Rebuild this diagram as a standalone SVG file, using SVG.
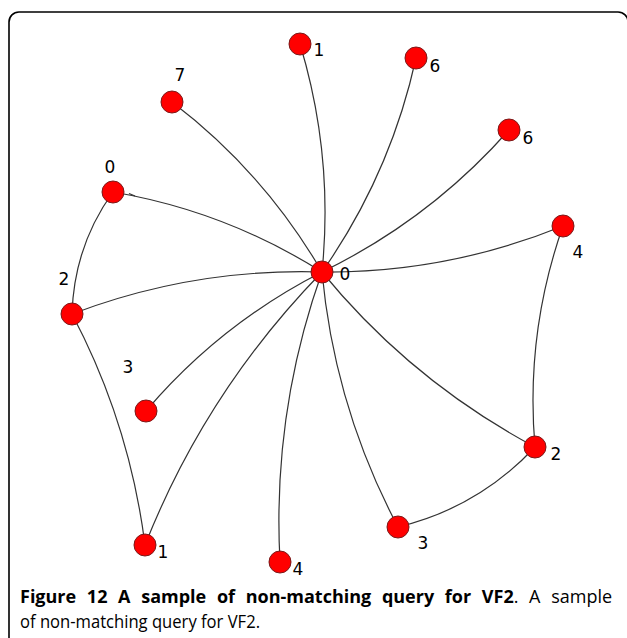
<svg xmlns="http://www.w3.org/2000/svg" width="627" height="638" viewBox="0 0 627 638">
<style>
.edge{fill:none;stroke:#333;stroke-width:1.2}
.node{fill:#ff0000;stroke:#7a1a1a;stroke-width:1}
.lbl{font-family:"DejaVu Sans",sans-serif;font-size:17px;fill:#000;text-anchor:middle}
.cap{font-family:"Open Sans",sans-serif;font-size:18px;fill:#000}
</style>
<rect width="627" height="638" fill="#fff"/>
<rect x="9" y="12" width="619" height="660" rx="10" fill="none" stroke="#000" stroke-width="1.6"/>
<g id="connectors">
<path class="edge" d="M322,272 Q333.8,155.8 300,44"/>
<path class="edge" d="M322,272 Q390.4,174.4 416,58"/>
<path class="edge" d="M322,272 Q429.7,219.7 509,130"/>
<path class="edge" d="M322,272 Q264,172 172,102"/>
<path class="edge" d="M322,272 Q225.5,211.1 113,192"/>
<path class="edge" d="M135,196 L129,193.5"/>
<path class="edge" d="M322,272 Q447.1,273.1 563,226"/>
<path class="edge" d="M322,272 Q192.8,268 72,314"/>
<path class="edge" d="M322,272 Q220.1,323.9 146,411"/>
<path class="edge" d="M322,272 Q411,380.8 535,447"/>
<path class="edge" d="M322,272 Q206.2,390.8 145,545"/>
<path class="edge" d="M322,272 Q272,412.8 280,562"/>
<path class="edge" d="M322,272 Q334.5,407.1 398,527"/>
<path class="edge" d="M113,192 Q74,246 72,314"/>
<path class="edge" d="M72,314 Q129.5,422.9 145,545"/>
<path class="edge" d="M563,226 Q525.2,333.5 535,447"/>
<path class="edge" d="M535,447 Q478.5,507.6 398,527"/>
</g>
<g id="n-center"><circle class="node" cx="322" cy="272" r="11"/><text class="lbl" x="345" y="280">0</text></g>
<g id="n-1top"><circle class="node" cx="300" cy="44" r="11"/><text class="lbl" x="319" y="56">1</text></g>
<g id="n-6top"><circle class="node" cx="416" cy="58" r="11"/><text class="lbl" x="435" y="72">6</text></g>
<g id="n-6right"><circle class="node" cx="509" cy="130" r="11"/><text class="lbl" x="528" y="144">6</text></g>
<g id="n-7"><circle class="node" cx="172" cy="102" r="11"/><text class="lbl" x="180" y="81">7</text></g>
<g id="n-0left"><circle class="node" cx="113" cy="192" r="11"/><text class="lbl" x="110" y="173">0</text></g>
<g id="n-4right"><circle class="node" cx="563" cy="226" r="11"/><text class="lbl" x="578" y="258">4</text></g>
<g id="n-2left"><circle class="node" cx="72" cy="314" r="11"/><text class="lbl" x="64" y="285">2</text></g>
<g id="n-3left"><circle class="node" cx="146" cy="411" r="11"/><text class="lbl" x="128" y="373">3</text></g>
<g id="n-2right"><circle class="node" cx="535" cy="447" r="11"/><text class="lbl" x="556" y="460">2</text></g>
<g id="n-1bottom"><circle class="node" cx="145" cy="545" r="11"/><text class="lbl" x="163" y="558">1</text></g>
<g id="n-4bottom"><circle class="node" cx="280" cy="562" r="11"/><text class="lbl" x="298" y="575">4</text></g>
<g id="n-3bottom"><circle class="node" cx="398" cy="527" r="11"/><text class="lbl" x="423" y="549">3</text></g>
<g id="caption">
<text class="cap" x="20" y="603" word-spacing="6"><tspan font-weight="bold">Figure 12 A sample of non-matching query for VF2</tspan>. A sample</text>
<text class="cap" x="20" y="628" textLength="240" lengthAdjust="spacingAndGlyphs">of non-matching query for VF2.</text>
</g>
</svg>
